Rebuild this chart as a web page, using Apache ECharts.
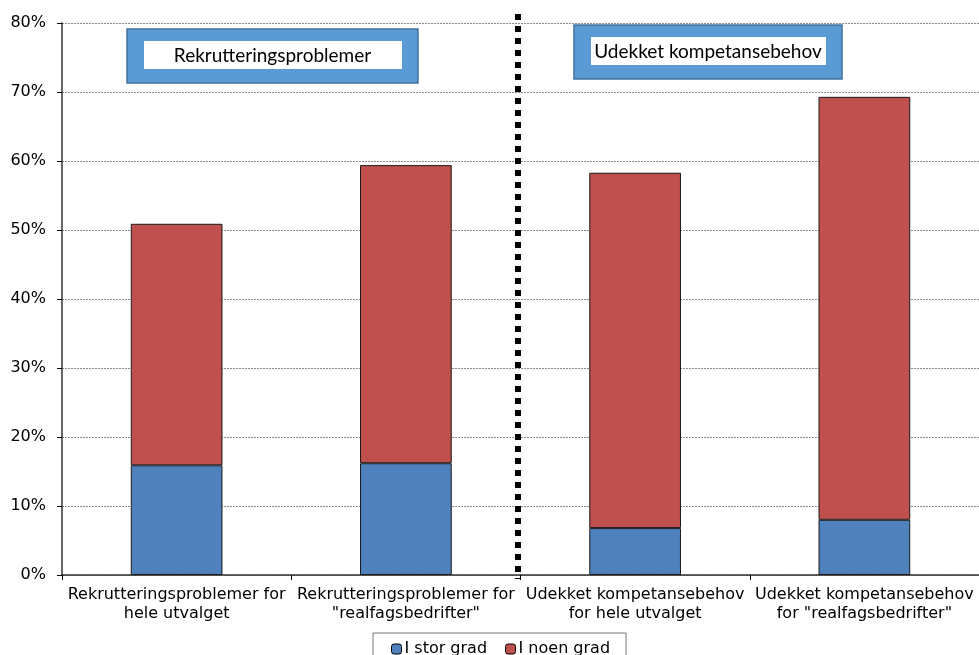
<!DOCTYPE html>
<html>
<head>
<meta charset="utf-8">
<script src="https://cdn.jsdelivr.net/npm/echarts@6/dist/echarts.min.js"></script>
<style>
  html, body { margin: 0; padding: 0; background: #fff; }
  #chart { width: 979px; height: 655px; }
</style>
</head>
<body>
<div id="chart"></div>
<script>
const categories = [
  "Rekrutteringsproblemer for\nhele utvalget",
  "Rekrutteringsproblemer for\n\"realfagsbedrifter\"",
  "Udekket kompetansebehov\nfor hele utvalget",
  "Udekket kompetansebehov\nfor \"realfagsbedrifter\""
];
const storGrad = [15.9, 16.2, 6.8, 8.0];
const noenGrad = [35.0, 43.2, 51.5, 61.3];
const yTicks = [0, 10, 20, 30, 40, 50, 60, 70, 80];
const boxTitles = ["Rekrutteringsproblemer", "Udekket kompetansebehov"];

const FONT = "DejaVu Sans, Liberation Sans, Arial";
const chart = echarts.init(document.getElementById("chart"));

// ramme med tykk blå kant og hvitt felt
function box(x, y, w, h, text) {
  return {
    type: "group",
    children: [
      {
        type: "rect",
        shape: { x: x, y: y, width: w, height: h },
        style: { fill: "#5b9bd5", stroke: "#41719c", lineWidth: 1.5 },
        z: 10
      },
      {
        type: "rect",
        shape: { x: x + 17, y: y + 12, width: w - 33, height: h - 26 },
        style: { fill: "#fff" },
        z: 11
      },
      {
        type: "text",
        x: x + w / 2,
        y: y + h / 2,
        style: {
          text: text,
          font: "19px Lato, 'Open Sans', sans-serif",
          fill: "#000",
          align: "center",
          verticalAlign: "middle"
        },
        z: 12
      }
    ]
  };
}

chart.setOption({
  animation: false,
  grid: { left: 62, right: 0, top: 23, bottom: 80 },
  legend: {
    left: 373,
    top: 633,
    itemWidth: 10,
    itemHeight: 10,
    itemGap: 18,
    padding: [8, 16, 8, 18],
    borderColor: "#777",
    borderWidth: 1,
    textStyle: { fontFamily: FONT, fontSize: 16, color: "#000", padding: [0, 0, 0, -2] },
    data: [
      { name: "I stor grad", itemStyle: { borderColor: "#000", borderWidth: 1 } },
      { name: "I noen grad", itemStyle: { borderColor: "#000", borderWidth: 1 } }
    ]
  },
  xAxis: {
    type: "category",
    data: categories,
    axisLine: { lineStyle: { color: "#333", width: 1.5 } },
    axisTick: { show: true, length: 5, lineStyle: { color: "#000" } },
    axisLabel: {
      interval: 0,
      fontFamily: FONT,
      fontSize: 16,
      color: "#000",
      lineHeight: 19,
      margin: 10
    }
  },
  yAxis: {
    type: "value",
    min: 0,
    max: 80,
    interval: 10,
    axisLine: { show: true, lineStyle: { color: "#333", width: 1.5 } },
    axisTick: { show: true, length: 5, lineStyle: { color: "#000" } },
    axisLabel: {
      fontFamily: FONT,
      fontSize: 16,
      color: "#000",
      margin: 16,
      formatter: v => (yTicks.includes(v) ? v + "%" : "")
    },
    splitLine: { lineStyle: { color: "#8a8a8a", type: [2, 1], width: 1 } }
  },
  series: [
    {
      name: "I stor grad",
      type: "bar",
      stack: "total",
      barWidth: "40%",
      data: storGrad,
      itemStyle: { color: "#4f81bd", borderColor: "#1a1a1a", borderWidth: 1 }
    },
    {
      name: "I noen grad",
      type: "bar",
      stack: "total",
      barWidth: "40%",
      data: noenGrad,
      itemStyle: { color: "#c0504d", borderColor: "#1a1a1a", borderWidth: 1 }
    }
  ],
  graphic: [
    {
      type: "line",
      shape: { x1: 518, y1: 14, x2: 518, y2: 579 },
      style: { stroke: "#000", lineWidth: 6, lineDash: [6, 6] },
      z: 20
    },
    box(127, 29, 291, 54, boxTitles[0]),
    box(574, 25, 268, 54, boxTitles[1])
  ]
});
</script>
</body>
</html>
